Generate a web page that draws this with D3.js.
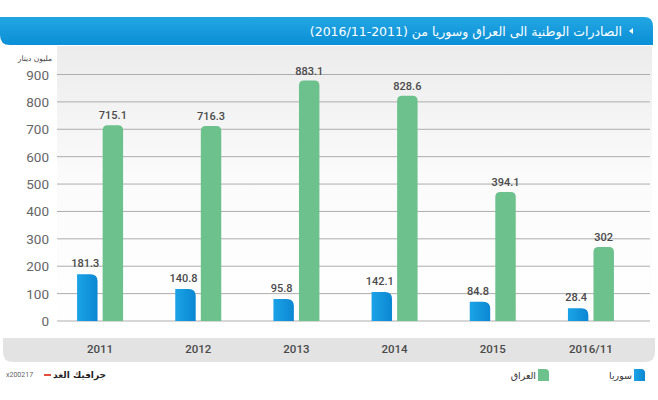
<!DOCTYPE html>
<html>
<head>
<meta charset="utf-8">
<script src="https://cdn.jsdelivr.net/npm/d3@7"></script>
<style>
  body { margin: 0; background: #fff; }
  svg { display: block; }
</style>
</head>
<body>
<div id="chart"></div>
<script>
// data
const years = ["2011", "2012", "2013", "2014", "2015", "2016/11"];
const syriaLabels = ["181.3", "140.8", "95.8", "142.1", "84.8", "28.4"];
const iraqLabels = ["715.1", "716.3", "883.1", "828.6", "394.1", "302"];
// bar heights as drawn in the picture (they do not always follow the printed labels)
const syriaBars = [171, 117, 80, 106, 70, 47];
const iraqBars = [715, 712, 878, 822, 471, 270];
const yTicks = [0, 100, 200, 300, 400, 500, 600, 700, 800, 900];

const W = 658, H = 400;
const arabic = "'DejaVu Sans', sans-serif";

const svg = d3.select("#chart").append("svg")
  .attr("width", W)
  .attr("height", H);

const defs = svg.append("defs");

let g1 = defs.append("linearGradient").attr("id", "hdr").attr("x1", 0).attr("y1", 0).attr("x2", 0).attr("y2", 1);
g1.append("stop").attr("offset", 0).attr("stop-color", "#22a6e2");
g1.append("stop").attr("offset", 1).attr("stop-color", "#0b8fd6");

let g2 = defs.append("linearGradient").attr("id", "plotbg").attr("x1", 0).attr("y1", 0).attr("x2", 0).attr("y2", 1);
g2.append("stop").attr("offset", 0).attr("stop-color", "#ececec");
g2.append("stop").attr("offset", 0.45).attr("stop-color", "#fbfbfb");
g2.append("stop").attr("offset", 1).attr("stop-color", "#ffffff");

let g3 = defs.append("linearGradient").attr("id", "blue").attr("x1", 0).attr("y1", 0).attr("x2", 1).attr("y2", 0);
g3.append("stop").attr("offset", 0).attr("stop-color", "#1ba3e6");
g3.append("stop").attr("offset", 1).attr("stop-color", "#0b87d2");

// header bar
svg.append("path")
  .attr("d", "M0,17 L644,17 Q653,17 653,26 L653,45 L10,45 Q0,45 0,35 Z")
  .attr("fill", "url(#hdr)");

svg.append("text")
  .attr("x", 622).attr("y", 35.5)
  .attr("text-anchor", "start")
  .attr("direction", "rtl")
  .attr("font-family", arabic)
  .attr("font-size", 12.5)
  .attr("font-weight", "normal")
  .attr("fill", "#fff")
  .text("الصادرات الوطنية الى العراق وسوريا من (2011-2016/11)");

svg.append("path")
  .attr("d", "M633,28 L633,34 L629,31 Z")
  .attr("fill", "#fff");

// scales
const x0 = d3.scaleBand().domain(years).range([51, 640]);
const x1 = d3.scaleBand().domain(["syria", "iraq"]).range([-23, 23]).paddingInner(0.2);
const y = d3.scaleLinear().domain([0, 900]).range([321, 74.5]);

// plot background
svg.append("rect")
  .attr("x", 57).attr("y", 46)
  .attr("width", 595).attr("height", 292)
  .attr("fill", "url(#plotbg)");

// gridlines
svg.append("g")
  .selectAll("line")
  .data(yTicks)
  .join("line")
  .attr("x1", 57).attr("x2", 650)
  .attr("y1", d => y(d)).attr("y2", d => y(d))
  .attr("stroke", "#adadad")
  .attr("stroke-width", 1);

// y tick labels
svg.append("g")
  .selectAll("text")
  .data(yTicks)
  .join("text")
  .attr("x", 49)
  .attr("y", d => y(d) + 5)
  .attr("text-anchor", "end")
  .attr("font-family", "Roboto, sans-serif")
  .attr("font-size", 13.5)
  .attr("fill", "#666")
  .text(d => d);

svg.append("text")
  .attr("x", 52).attr("y", 61)
  .attr("text-anchor", "start")
  .attr("direction", "rtl")
  .attr("font-family", arabic)
  .attr("font-size", 7.5)
  .attr("fill", "#444")
  .text("مليون دينار");

// bar shapes: blue rounded only top-right, green rounded both top corners
function barPath(x, w, top, bottom, rl, rr) {
  return `M${x},${bottom} L${x},${top + rl} Q${x},${top} ${x + rl},${top} ` +
         `L${x + w - rr},${top} Q${x + w},${top} ${x + w},${top + rr} L${x + w},${bottom} Z`;
}

const groups = svg.append("g")
  .selectAll("g")
  .data(years)
  .join("g")
  .attr("transform", d => `translate(${x0(d) + x0.bandwidth() / 2},0)`);

groups.append("path")
  .attr("d", (d, i) => barPath(x1("syria"), x1.bandwidth(), y(syriaBars[i]), y(0), 0, 7))
  .attr("fill", "url(#blue)");

groups.append("path")
  .attr("d", (d, i) => barPath(x1("iraq"), x1.bandwidth(), y(iraqBars[i]), y(0), 5, 5))
  .attr("fill", "#6cc18c");

groups.append("text")
  .attr("x", x1("syria") + x1.bandwidth() / 2 - 2)
  .attr("y", (d, i) => y(syriaBars[i]) - 7)
  .attr("text-anchor", "middle")
  .attr("font-family", "Roboto, sans-serif")
  .attr("font-size", 11)
  .attr("font-weight", 500)
  .attr("fill", "#4a4a4a")
  .text((d, i) => syriaLabels[i]);

groups.append("text")
  .attr("x", x1("iraq") + x1.bandwidth() / 2)
  .attr("y", (d, i) => y(iraqBars[i]) - 6)
  .attr("text-anchor", "middle")
  .attr("font-family", "Roboto, sans-serif")
  .attr("font-size", 11)
  .attr("font-weight", 500)
  .attr("fill", "#4a4a4a")
  .text((d, i) => iraqLabels[i]);

// x axis band
svg.append("path")
  .attr("d", "M3,338 L655,338 L655,352 Q655,362 645,362 L13,362 Q3,362 3,352 Z")
  .attr("fill", "#e3e3e3");

svg.append("g")
  .selectAll("text")
  .data(years)
  .join("text")
  .attr("x", d => x0(d) + x0.bandwidth() / 2)
  .attr("y", 353)
  .attr("text-anchor", "middle")
  .attr("font-family", "Roboto, sans-serif")
  .attr("font-size", 11.5)
  .attr("font-weight", 500)
  .attr("fill", "#4a4a4a")
  .text(d => d);

// legend
const legend = [
  { name: "سوريا", fill: "url(#blue)", x: 634 },
  { name: "العراق", fill: "#6cc18c", x: 538 }
];
const lg = svg.append("g")
  .selectAll("g")
  .data(legend)
  .join("g");
lg.append("path")
  .attr("d", d => barPath(d.x, 11, 369, 381, 0, 4))
  .attr("fill", d => d.fill);
lg.append("text")
  .attr("x", d => d.x - 2).attr("y", 379)
  .attr("text-anchor", "start")
  .attr("direction", "rtl")
  .attr("font-family", arabic)
  .attr("font-size", 9.5)
  .attr("fill", "#333")
  .text(d => d.name);

// credit
svg.append("text")
  .attr("x", 6).attr("y", 377)
  .attr("font-family", "Roboto, sans-serif")
  .attr("font-size", 7)
  .attr("fill", "#666")
  .text("x200217");
svg.append("line")
  .attr("x1", 44).attr("x2", 51).attr("y1", 375).attr("y2", 375)
  .attr("stroke", "#e03a2a").attr("stroke-width", 1.8);
svg.append("text")
  .attr("x", 106).attr("y", 378)
  .attr("text-anchor", "start")
  .attr("direction", "rtl")
  .attr("font-family", arabic)
  .attr("font-size", 9)
  .attr("font-weight", "bold")
  .attr("fill", "#222")
  .text("جرافيك الغد");
</script>
</body>
</html>
